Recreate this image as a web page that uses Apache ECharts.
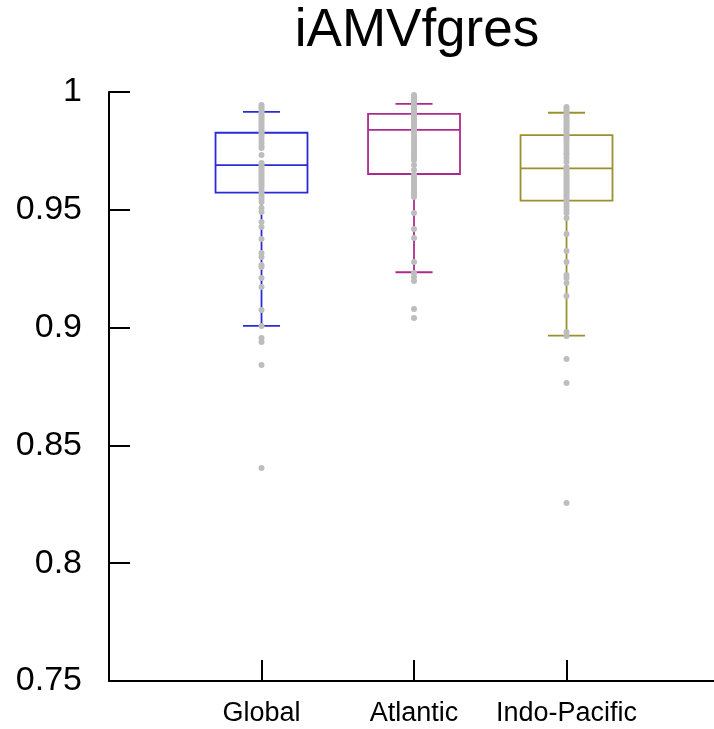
<!DOCTYPE html>
<html>
<head>
<meta charset="utf-8">
<script src="https://cdn.jsdelivr.net/npm/echarts@6/dist/echarts.min.js"></script>
<style>html,body{margin:0;padding:0;background:#fff}#c{width:714px;height:729px}</style>
</head>
<body>
<div id="c"></div>
<script>
const titleText = 'iAMVfgres';
const categories = ['Global', 'Atlantic', 'Indo-Pacific'];
const categoryPositions = [1, 2, 3];
const yTicks = [0.75, 0.8, 0.85, 0.9, 0.95, 1];
const boxColors = ['#2a2ad8', '#ad2a8c', '#9a9030'];
// [min, Q1, median, Q3, max]
const globalBox = [0.9007, 0.9573, 0.9690, 0.9827, 0.9916];
const atlanticBox = [0.9235, 0.9652, 0.9839, 0.9907, 0.9950];
const indoPacificBox = [0.8966, 0.9539, 0.9676, 0.9817, 0.9912];

const globalPts = [0.9945,0.9936,0.9928,0.9919,0.9911,0.9902,0.9894,0.9885,0.9877,0.9868,0.9860,0.9851,0.9843,0.9834,0.9826,0.9817,0.9809,0.9796,0.9784,0.9771,0.9762,0.9733,0.9699,0.9690,0.9682,0.9673,0.9665,0.9656,0.9648,0.9639,0.9631,0.9622,0.9614,0.9605,0.9597,0.9584,0.9571,0.9559,0.9546,0.9533,0.9508,0.9491,0.9448,0.9427,0.9376,0.9317,0.9300,0.9266,0.9257,0.9211,0.9172,0.9075,0.9007,0.8956,0.8939,0.8841,0.8404];
const atlanticPts = [0.9987,0.9979,0.9970,0.9962,0.9953,0.9945,0.9936,0.9928,0.9919,0.9911,0.9902,0.9894,0.9885,0.9877,0.9868,0.9860,0.9851,0.9843,0.9834,0.9822,0.9809,0.9796,0.9784,0.9771,0.9758,0.9745,0.9733,0.9720,0.9711,0.9690,0.9669,0.9648,0.9639,0.9631,0.9622,0.9614,0.9605,0.9597,0.9588,0.9580,0.9571,0.9563,0.9554,0.9486,0.9419,0.9380,0.9278,0.9232,0.9215,0.9198,0.9079,0.9041];
const indoPacificPts = [0.9936,0.9928,0.9919,0.9911,0.9902,0.9894,0.9885,0.9877,0.9868,0.9860,0.9851,0.9843,0.9834,0.9826,0.9817,0.9809,0.9800,0.9792,0.9779,0.9767,0.9754,0.9741,0.9733,0.9720,0.9703,0.9682,0.9673,0.9665,0.9656,0.9648,0.9639,0.9631,0.9622,0.9614,0.9605,0.9597,0.9588,0.9580,0.9571,0.9563,0.9554,0.9546,0.9537,0.9525,0.9512,0.9499,0.9486,0.9465,0.9397,0.9325,0.9278,0.9223,0.9211,0.9189,0.9134,0.8981,0.8964,0.8867,0.8765,0.8256];

const boxes = [globalBox, atlanticBox, indoPacificBox];
const ptsAll = [globalPts, atlanticPts, indoPacificPts];
const boxData = boxes.map((b, i) => [categoryPositions[i]].concat(b));
const scatterData = [];
ptsAll.forEach((arr, i) => arr.forEach(v => scatterData.push([categoryPositions[i], v])));

const chart = echarts.init(document.getElementById('c'), null, {renderer: 'canvas'});
const FONT = '"Liberation Sans", Arial, Helvetica, sans-serif';

function renderBox(params, api) {
  const x = api.value(0);
  const vals = [1,2,3,4,5].map(k => api.value(k));
  const p = vals.map(v => api.coord([x, v]));
  const band = api.coord([x + 1, vals[0]])[0] - p[0][0];
  const bw = band * 0.603, cw = band * 0.243;
  const cx = p[0][0];
  const col = boxColors[params.dataIndex];
  const st = {stroke: col, lineWidth: 1.8, fill: null};
  return {
    type: 'group',
    children: [
      {type: 'line', shape: {x1: cx, y1: p[0][1], x2: cx, y2: p[1][1]}, style: st},
      {type: 'line', shape: {x1: cx, y1: p[3][1], x2: cx, y2: p[4][1]}, style: st},
      {type: 'line', shape: {x1: cx - cw/2, y1: p[0][1], x2: cx + cw/2, y2: p[0][1]}, style: st},
      {type: 'line', shape: {x1: cx - cw/2, y1: p[4][1], x2: cx + cw/2, y2: p[4][1]}, style: st},
      {type: 'rect', shape: {x: cx - bw/2, y: p[3][1], width: bw, height: p[1][1] - p[3][1]}, style: {stroke: col, lineWidth: 1.8, fill: 'rgba(0,0,0,0)'}},
      {type: 'line', shape: {x1: cx - bw/2, y1: p[2][1], x2: cx + bw/2, y2: p[2][1]}, style: st}
    ]
  };
}

chart.setOption({
  backgroundColor: '#fff',
  animation: false,
  title: {
    text: titleText,
    left: 412, top: 0, textAlign: 'center',
    textStyle: {fontFamily: FONT, fontSize: 53, fontWeight: 'normal', color: '#000'}
  },
  grid: {left: 109, top: 92, right: 0, bottom: 48, containLabel: false},
  xAxis: {
    type: 'value', min: 0, max: 3.967,
    axisLine: {lineStyle: {color: '#000', width: 2}},
    axisTick: {inside: true, length: 21, customValues: categoryPositions, lineStyle: {color: '#000', width: 2}},
    axisLabel: {fontFamily: FONT, fontSize: 27, color: '#000', margin: 19,
      customValues: categoryPositions,
      formatter: v => categories[categoryPositions.indexOf(Math.round(v))] || ''},
    splitLine: {show: false}
  },
  yAxis: {
    type: 'value', min: 0.75, max: 1, interval: 0.05,
    axisLine: {show: true, lineStyle: {color: '#000', width: 2}},
    axisTick: {show: true, inside: true, length: 21, lineStyle: {color: '#000', width: 2}},
    axisLabel: {fontFamily: FONT, fontSize: 34, color: '#000', margin: 27,
      formatter: v => String(+(+v).toFixed(2))},
    splitLine: {show: false}
  },
  series: [
    {type: 'custom', renderItem: renderBox, data: boxData, z: 2,
     encode: {x: 0, y: [1,2,3,4,5]}},
    {type: 'scatter', data: scatterData, symbolSize: 6, z: 3,
     itemStyle: {color: '#bdbdbd', opacity: 1}}
  ]
});
</script>
</body>
</html>
